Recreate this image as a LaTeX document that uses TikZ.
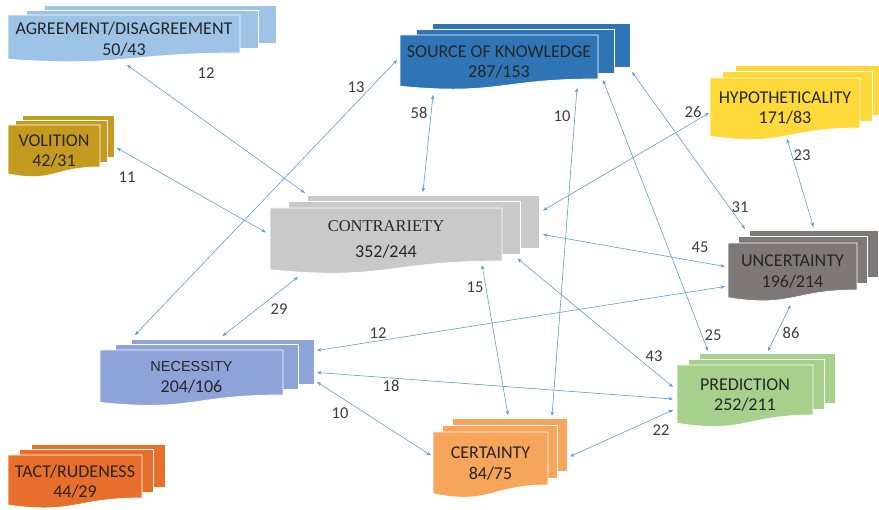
\documentclass[tikz,border=0pt]{standalone}
\usepackage{fontspec}
\setmainfont{Carlito}
\newfontfamily\romanfont{Liberation Serif}
\newfontfamily\arialfont{Liberation Sans}
\usetikzlibrary{arrows.meta,calc}

\definecolor{linkblue}{HTML}{5B9BD5}
\definecolor{inkgray}{HTML}{262626}
\definecolor{agreeblue}{HTML}{9DC3E6}
\definecolor{volgold}{HTML}{C59B1F}
\definecolor{sourceblue}{HTML}{2F75B5}
\definecolor{hypoyellow}{HTML}{FFD83A}
\definecolor{uncgray}{HTML}{7F7878}
\definecolor{contragray}{HTML}{C9C9C9}
\definecolor{necblue}{HTML}{8EA4D8}
\definecolor{tactorange}{HTML}{E86E2B}
\definecolor{certorange}{HTML}{F6A55A}
\definecolor{predgreen}{HTML}{A8D08D}

% #1 name, #2 left, #3 top, #4 width, #5 height, #6/#7 shift of each sheet behind, #8 colour, #9 text
\newcommand{\docstack}[9]{%
  \foreach \k in {2,1}
    \draw[sheet,fill=#8] (#2+\k*#6,#3-\k*#7) rectangle ++(#4,#5);
  \draw[sheet,fill=#8] (#2,#3) -- ++(#4,0) -- ++(0,#5)
    .. controls (#2+0.5*#4,#3+#5) and (#2+0.5*#4,#3+1.38*#5) .. (#2,#3+1.165*#5) -- cycle;
  \node[docframe,minimum width=#4pt,minimum height=#5pt] (#1) at (#2+0.5*#4,#3+0.5*#5) {};
  \node[docframe,minimum width=#4pt,minimum height=#5pt] (#1-m) at (#2+#6+0.5*#4,#3-#7+0.5*#5) {};
  \node[docframe,minimum width=#4pt,minimum height=#5pt] (#1-b) at (#2+2*#6+0.5*#4,#3-2*#7+0.5*#5) {};
  \node[doctext] (#1-t) at ($(#1.center)+(0,5)$) {#9};
}

\begin{document}
\begin{tikzpicture}[x=1pt,y=-1pt,
    sheet/.style={draw=white,line width=0.8pt},
    docframe/.style={inner sep=0pt,outer sep=0pt},
    doctext/.style={align=center,text=inkgray,font=\fontsize{18}{20.5}\selectfont},
    link/.style={{Stealth[length=4.5pt,width=3.5pt]}-{Stealth[length=4.5pt,width=3.5pt]},draw=linkblue,line width=0.6pt},
    wlabel/.style={text=inkgray!90,font=\fontsize{16.5}{18}\selectfont}]
  \useasboundingbox (0,0) rectangle (879,510);
  \clip (0,0) rectangle (879,510);

  \docstack{agree}{8}{15}{232}{38}{18}{5}{agreeblue}{AGREEMENT/DISAGREEMENT\\50/43}
  \docstack{volition}{8}{125}{92}{42}{7}{5}{volgold}{VOLITION\\42/31}
  \docstack{source}{400}{35}{198}{44}{16}{6}{sourceblue}{SOURCE OF KNOWLEDGE\\287/153}
  \docstack{hypo}{710}{78}{150}{50}{12.5}{6.5}{hypoyellow}{HYPOTHETICALITY\\171/83}
  \docstack{unc}{728}{243}{129}{47}{10.5}{6.5}{uncgray}{UNCERTAINTY\\196/214}
  \docstack{contra}{270}{208}{232}{53}{18.5}{6.5}{contragray}{{\fontsize{16.5}{20}\romanfont CONTRARIETY}\\[6pt]352/244}
  \docstack{nec}{100}{350}{183}{45}{15.5}{5.5}{necblue}{{\fontsize{14.5}{18}\arialfont NECESSITY}\\204/106}
  \docstack{tact}{8}{455}{134}{43}{11.5}{5.5}{tactorange}{TACT/RUDENESS\\44/29}
  \docstack{cert}{433}{432}{115}{53}{9.5}{7}{certorange}{CERTAINTY\\84/75}
  \docstack{pred}{677}{365}{136}{50}{11}{6}{predgreen}{PREDICTION\\252/211}

  \draw[link] ($(agree.south)+(3,12)$) -- ($(contra-b.north west)+(-2,-2)$);
  \draw[link] ($(volition-b.south east)+(3,-9)$) -- ($(contra.west)+(-4,-2)$);
  \draw[link] ($(source.west)+(-3,3)$) -- ($(nec-b.north west)+(4,-4)$);
  \draw[link] ($(source.south west)+(33,16)$) -- ($(contra-b.north)+(0,-3)$);
  \draw[link] ($(source.south east)+(-21,9)$) -- ($(cert-b.north east)+(-15,-2)$);
  \draw[link] ($(source-m.south east)+(-11,7)$) -- ($(pred-b.north west)+(9,-2)$);
  \draw[link] ($(source-b.south east)+(2,5)$) -- ($(unc-b.north west)+(-4,-1)$);
  \draw[link] ($(hypo.west)+(-1,10)$) -- ($(contra-b.east)+(4,-11)$);
  \draw[link] ($(hypo.south)+(2,11)$) -- ($(unc-b.north)+(0,-3)$);
  \draw[link] ($(unc.west)+(-3,0)$) -- ($(contra-b.east)+(4,13)$);
  \draw[link] ($(unc.west)+(-3,20)$) -- ($(nec-b.east)+(3,-11)$);
  \draw[link] ($(unc.south)+(-2,15)$) -- ($(pred-b.north)+(1,-2)$);
  \draw[link] ($(contra.south west)+(28,16)$) -- ($(nec-b.north)+(0,-3)$);
  \draw[link] ($(contra.south east)+(-20,4)$) -- ($(cert-b.north west)+(56,-3)$);
  \draw[link] ($(contra-m.south east)+(-3,4)$) -- ($(pred.west)+(-4,-3)$);
  \draw[link] ($(nec-b.east)+(3,11)$) -- ($(pred.west)+(-4,9)$);
  \draw[link] ($(nec-b.south east)+(3,-2)$) -- ($(cert.west)+(-2,-3)$);
  \draw[link] ($(cert-b.east)+(3,12)$) -- ($(pred.west)+(-4,20)$);

  \node[wlabel] (w-agree) at (206,73) {12};
  \node[wlabel] (w-vol) at (127,177) {11};
  \node[wlabel] (w-srcnec) at (356,87) {13};
  \node[wlabel] (w-srccon) at (419,113) {58};
  \node[wlabel] (w-srccert) at (562,116) {10};
  \node[wlabel] (w-hypcon) at (693,112) {26};
  \node[wlabel] (w-srcunc) at (740,207) {31};
  \node[wlabel] (w-hypunc) at (802,155) {23};
  \node[wlabel] (w-unccon) at (700,247) {45};
  \node[wlabel] (w-uncnec) at (378,333) {12};
  \node[wlabel] (w-uncpred) at (791,333) {86};
  \node[wlabel] (w-connec) at (279,309) {29};
  \node[wlabel] (w-concert) at (475,287) {15};
  \node[wlabel] (w-conpred) at (654,356) {43};
  \node[wlabel] (w-srcpred) at (713,335) {25};
  \node[wlabel] (w-necpred) at (391,386) {18};
  \node[wlabel] (w-neccert) at (340,413) {10};
  \node[wlabel] (w-certpred) at (661,430) {22};
\end{tikzpicture}
\end{document}
